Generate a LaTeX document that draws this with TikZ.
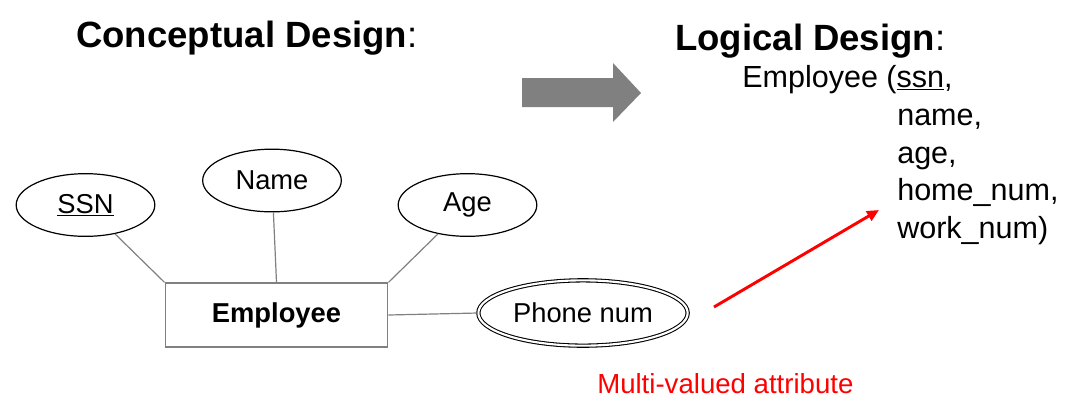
\documentclass[tikz,border=0pt]{standalone}
\usepackage{fontspec}
\setmainfont{Liberation Sans}
\usetikzlibrary{shapes.geometric,arrows.meta}

\tikzstyle{attr}=[ellipse,draw=black,line width=0.9pt,minimum width=104pt,minimum height=47pt,inner sep=0pt,font=\fontsize{20.5}{24}\selectfont]
\tikzstyle{multi attr}=[attr,double,double distance=1.6pt,line width=0.8pt,minimum width=157pt,minimum height=49pt]
\tikzstyle{entity}=[rectangle,draw=gray,line width=0.9pt,minimum width=167pt,minimum height=48pt,font=\fontsize{20.5}{24}\selectfont\bfseries]
\tikzstyle{link edge}=[draw,line width=0.9pt,-,gray]
\tikzstyle{title}=[anchor=base west,inner sep=0pt,font=\fontsize{27.4}{32}\selectfont]
\tikzstyle{schema}=[anchor=base west,inner sep=0pt,font=\fontsize{22.9}{28}\selectfont]

\begin{document}
\begin{tikzpicture}[x=0.75pt,y=-0.75pt]
       \useasboundingbox (0,0) rectangle (1081,415);
       \node[title] (concept) at (76,47) {\textbf{Conceptual Design}:};
       \node[title] (logical) at (675,50) {\textbf{Logical Design}:};
       \node[schema] (s1) at (742,87) {Employee (\underline{ssn},};
       \foreach \y/\name/\txt in {125/s2/{name,}, 163/s3/{age,}, 200/s4/{home\_num,}, 238/s5/{work\_num)}} {
           \node[schema] (\name) at (897,\y) {\txt};
       }
       % big arrow between the two designs
       \fill[gray] (522,78) -- (613,78) -- (613,63) -- (641,93) -- (613,122) -- (613,107) -- (522,107) -- cycle;
       \foreach \pos/\name/\txt in {{(85.5,205)/ssn/\underline{SSN}}, {(272,180.5)/name/Name}, {(467.5,205)/age/Age}} {
           \node[attr] (\name) at \pos {\txt};
       }
       \node[entity] (employee) at (276.5,315) {Employee};
       \node[multi attr] (phone) at (583,313) {Phone num};
       \foreach \source/\sink in {ssn/employee.north west, name/employee.north, age/employee.north east, employee.east/phone.west} {
           \path[link edge] (\source) -- (\sink);
       }
       \coordinate (mvtail) at (714,307);
       \coordinate (mvtip) at (879,210);
       \draw[red,line width=2.2pt,-{Triangle[length=9pt,width=8pt]}] (mvtail) -- (mvtip);
       \node[anchor=base west,inner sep=0pt,text=red,font=\fontsize{20.7}{24}\selectfont] (mvlabel) at (597,393) {Multi-valued attribute};
\end{tikzpicture}
\end{document}
